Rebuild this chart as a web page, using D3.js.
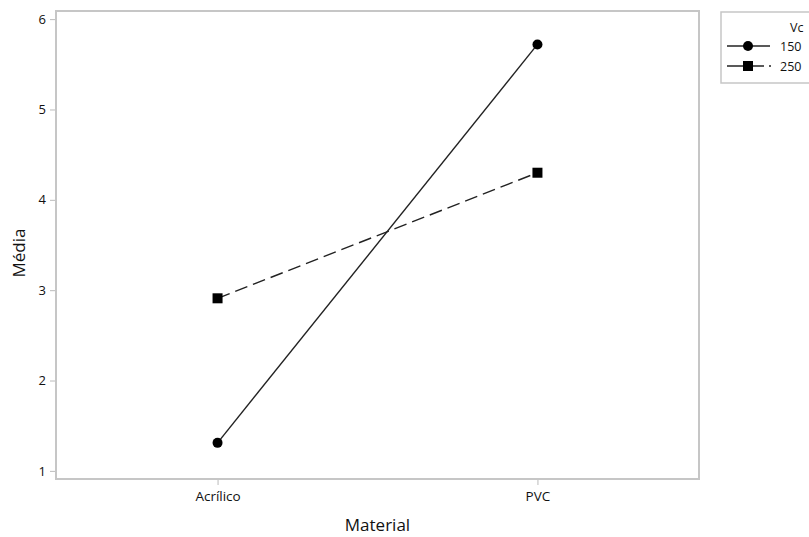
<!DOCTYPE html>
<html>
<head>
<meta charset="utf-8">
<script src="https://cdn.jsdelivr.net/npm/d3@7"></script>
<style>
  body { margin: 0; background: #fff; }
  text { font-family: "Open Sans", "Noto Sans", sans-serif; fill: #111; }
</style>
</head>
<body>
<div id="chart"></div>
<script>
// Data
const materials = ["Acrílico", "PVC"];
const seriesNames = ["150", "250"];
const vc150 = [1.31, 5.72];
const vc250 = [2.91, 4.30];
const yTicks = [1, 2, 3, 4, 5, 6];

const width = 809, height = 537;
const margin = { top: 11, right: 110, bottom: 58, left: 56 };

const svg = d3.select("#chart").append("svg")
    .attr("width", width)
    .attr("height", height);

const x = d3.scalePoint()
    .domain(materials)
    .range([margin.left, width - margin.right])
    .padding(0.505);

const y = d3.scaleLinear()
    .domain([0.91, 6.09])
    .range([height - margin.bottom, margin.top]);

// Frame
svg.append("rect")
    .attr("x", margin.left)
    .attr("y", margin.top)
    .attr("width", width - margin.left - margin.right)
    .attr("height", height - margin.top - margin.bottom)
    .attr("fill", "none")
    .attr("stroke", "#c6c6c6")
    .attr("stroke-width", 2);

// Y axis
const yAxis = svg.append("g")
    .attr("transform", `translate(${margin.left - 1},0)`)
    .call(d3.axisLeft(y).tickValues(yTicks).tickSize(5).tickPadding(4).tickFormat(d3.format("d")));
yAxis.select(".domain").remove();
yAxis.selectAll(".tick line").attr("stroke", "#bbb");
yAxis.selectAll(".tick text").style("font-size", "13px").attr("fill", "#111");

// X axis
const xAxis = svg.append("g")
    .attr("transform", `translate(0,${height - margin.bottom + 1})`)
    .call(d3.axisBottom(x).tickSize(5).tickPadding(6));
xAxis.select(".domain").remove();
xAxis.selectAll(".tick line").attr("stroke", "#bbb");
xAxis.selectAll(".tick text").style("font-size", "13.5px").attr("fill", "#111");

// Axis titles
svg.append("text")
    .attr("x", (margin.left + width - margin.right) / 2)
    .attr("y", 531)
    .attr("text-anchor", "middle")
    .style("font-size", "17px")
    .text("Material");

svg.append("text")
    .attr("transform", `translate(25,${(margin.top + height - margin.bottom) / 2 + 8}) rotate(-90)`)
    .attr("text-anchor", "middle")
    .style("font-size", "17px")
    .text("Média");

// Lines
const line = d3.line()
    .x((d, i) => x(materials[i]))
    .y(d => y(d));

svg.append("path")
    .datum(vc150)
    .attr("d", line)
    .attr("fill", "none")
    .attr("stroke", "#222")
    .attr("stroke-width", 1.4);

svg.append("path")
    .datum(vc250)
    .attr("d", line)
    .attr("fill", "none")
    .attr("stroke", "#222")
    .attr("stroke-width", 1.4)
    .attr("stroke-dasharray", "13,6");

// Markers
svg.selectAll(".pt150")
    .data(vc150)
    .enter()
    .append("circle")
    .attr("cx", (d, i) => x(materials[i]))
    .attr("cy", d => y(d))
    .attr("r", 5)
    .attr("fill", "#000");

svg.selectAll(".pt250")
    .data(vc250)
    .enter()
    .append("rect")
    .attr("x", (d, i) => x(materials[i]) - 5)
    .attr("y", d => y(d) - 5)
    .attr("width", 10)
    .attr("height", 10)
    .attr("fill", "#000");

// Legend
const legend = svg.append("g");
legend.append("rect")
    .attr("x", 721)
    .attr("y", 12)
    .attr("width", 100)
    .attr("height", 71)
    .attr("fill", "#fff")
    .attr("stroke", "#c6c6c6")
    .attr("stroke-width", 1.5);

legend.append("text")
    .attr("x", 790)
    .attr("y", 32)
    .style("font-size", "12.5px")
    .text("Vc");

seriesNames.forEach(function (name, i) {
    const ly = 46 + i * 20;
    legend.append("line")
        .attr("x1", 727)
        .attr("x2", i === 0 ? 770 : 764)
        .attr("y1", ly)
        .attr("y2", ly)
        .attr("stroke", "#222")
        .attr("stroke-width", 1.4);
    if (i === 1) {
        legend.append("line")
            .attr("x1", 769).attr("x2", 771)
            .attr("y1", ly).attr("y2", ly)
            .attr("stroke", "#222")
            .attr("stroke-width", 1.4);
        legend.append("rect")
            .attr("x", 743).attr("y", ly - 5)
            .attr("width", 10).attr("height", 10)
            .attr("fill", "#000");
    } else {
        legend.append("circle")
            .attr("cx", 748).attr("cy", ly)
            .attr("r", 5)
            .attr("fill", "#000");
    }
    legend.append("text")
        .attr("x", 780)
        .attr("y", ly + 4.5)
        .style("font-size", "12.5px")
        .text(name);
});
</script>
</body>
</html>
